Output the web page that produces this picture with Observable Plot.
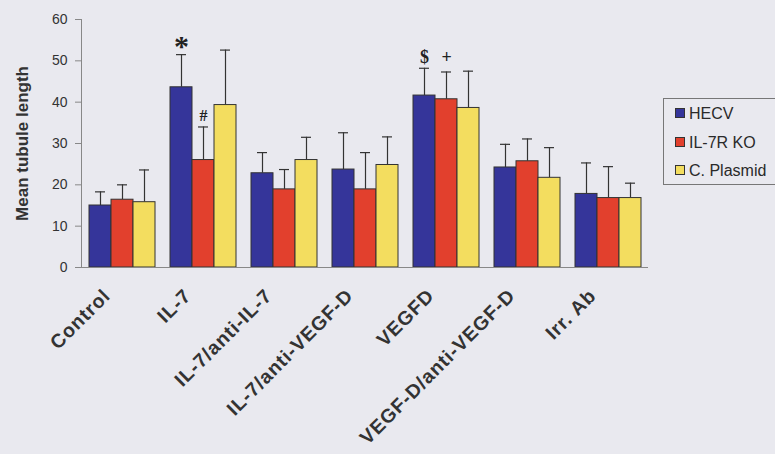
<!DOCTYPE html>
<html><head><meta charset="utf-8">
<script src="https://cdn.jsdelivr.net/npm/d3@7"></script>
<script src="https://cdn.jsdelivr.net/npm/@observablehq/plot@0.6"></script>
<style>
html,body{margin:0;padding:0;background:#e9e9ef;overflow:hidden}
#wrap{position:relative;width:775px;height:454px;font-family:"Liberation Sans",Arial,sans-serif}
#legend{position:absolute;left:663px;top:98px;width:120px;height:87px;border:1px solid #777;box-sizing:border-box;font-size:16px;color:#2a2a2a}
#legend .it{position:absolute;left:11px;height:18px;line-height:18px;white-space:nowrap}
#legend .sw{display:inline-block;width:8px;height:8px;border:1px solid #333;margin-right:4px;vertical-align:1px}
g[aria-label="y-axis label"] text{font-weight:bold;font-size:17px}
g[aria-label="fx-axis tick label"] text{letter-spacing:0.9px}
</style></head><body><div id="wrap"><div id="legend"></div></div>
<script>
const groups = ["Control","IL-7","IL-7/anti-IL-7","IL-7/anti-VEGF-D","VEGFD","VEGF-D/anti-VEGF-D","Irr. Ab"];
const series = ["HECV","IL-7R KO","C. Plasmid"];
const colors = ["#35359a","#e2402d","#f3dd5f"];
const hecv     = [15.0, 43.6, 22.8, 23.7, 41.6, 24.2, 17.8];
const hecvTop  = [18.3, 51.5, 27.8, 32.6, 48.2, 29.8, 25.3];
const ko       = [16.4, 26.0, 18.9, 18.9, 40.7, 25.7, 16.8];
const koTop    = [20.0, 34.0, 23.7, 27.8, 47.3, 31.1, 24.4];
const plasmid  = [15.8, 39.3, 26.0, 24.8, 38.6, 21.7, 16.8];
const plasmidTop = [23.6, 52.6, 31.5, 31.6, 47.5, 29.0, 20.4];
const yTicks = [0,10,20,30,40,50,60];
const annSymbol = ["*","#","$","+"];
const annGroup = ["IL-7","IL-7","VEGFD","VEGFD"];
const annSeries = ["HECV","IL-7R KO","HECV","IL-7R KO"];
const annY = [53.5, 36.6, 50.8, 50.8];
const annSize = [30, 16, 18, 18];

const vals = [hecv, ko, plasmid], tops = [hecvTop, koTop, plasmidTop];
const data = [];
groups.forEach((g,i)=>series.forEach((s,j)=>data.push({group:g, series:s, value:vals[j][i], top:tops[j][i]})));
const ann = annSymbol.map((t,i)=>({text:t, group:annGroup[i], series:annSeries[i], y:annY[i], size:annSize[i]}));

const chart = Plot.plot({
  width: 775, height: 454,
  marginLeft: 81, marginRight: 127, marginTop: 19, marginBottom: 187,
  style: {background: "transparent", fontFamily: "'Liberation Sans', Arial, sans-serif", color: "#333"},
  fx: {domain: groups, padding: 0},
  x: {domain: series, paddingInner: 0, paddingOuter: 0.34, axis: null},
  y: {domain: [0,60]},
  color: {domain: series, range: colors},
  marks: [
    Plot.ruleX(data, {fx:"group", x:"series", y1:"value", y2:"top", stroke:"#333", strokeWidth:1.2}),
    Plot.tickY(data, {fx:"group", x:"series", y:"top", stroke:"#333", strokeWidth:1.2, insetLeft:6, insetRight:6}),
    Plot.barY(data, {fx:"group", x:"series", y:"value", fill:"series", stroke:"#333", strokeWidth:1}),
    Plot.ruleY([0], {stroke:"#888"}),
    Plot.frame({anchor:"left", facetAnchor:"left", stroke:"#888"}),
    Plot.axisY({ticks: yTicks, tickSize:6, tickPadding:8, fontSize:14, stroke:"#888", fill:"#333", label:"Mean tubule length", labelAnchor:"center", labelOffset:66, labelArrow:"none"}),
    Plot.axisFx({anchor:"bottom", tickRotate:-45, tickSize:0, tickPadding:25, fontSize:19.5, fontWeight:"bold", fill:"#333", label:null, textAnchor:"end", dx:-15}),
    Plot.text(ann, {fx:"group", x:"series", y:"y", text:"text", fontSize:"size", fontFamily:"'Liberation Serif', 'Times New Roman', serif", fontWeight:"bold", fill:"#222"})
  ]
});
document.getElementById("wrap").appendChild(chart);
const lg = document.getElementById("legend");
series.forEach((s,i)=>{
  const d = document.createElement("div");
  d.className = "it"; d.style.top = (6 + i*28.5) + "px";
  d.innerHTML = `<span class="sw" style="background:${colors[i]}"></span>${s}`;
  lg.appendChild(d);
});
</script></body></html>
